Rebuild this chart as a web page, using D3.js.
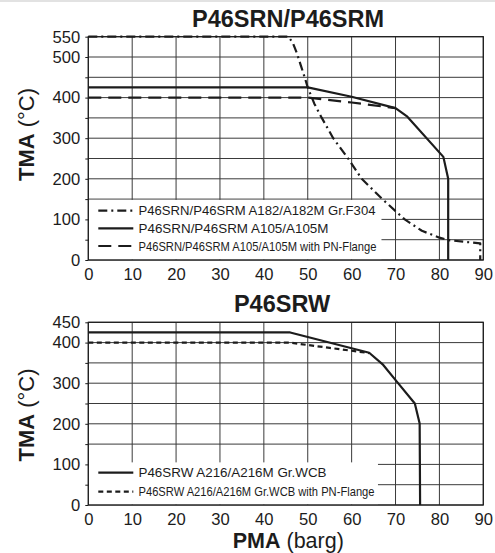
<!DOCTYPE html>
<html>
<head>
<meta charset="utf-8">
<script src="https://cdnjs.cloudflare.com/ajax/libs/d3/7.8.5/d3.min.js"></script>
<style>
  body { margin: 0; background: #fff; }
  svg { display: block; font-family: "Liberation Sans", Arial, sans-serif; }
</style>
</head>
<body>
<div id="chart"></div>
<script>
// tick values
const pmaTicks = [0, 10, 20, 30, 40, 50, 60, 70, 80, 90];
const topTmaLabels = [0, 100, 200, 300, 400, 500, 550];
const bottomTmaLabels = [0, 100, 200, 300, 400, 450];

// P46SRN/P46SRM A182/A182M Gr.F304
const f304Pma = [0, 45.6, 46.6, 47.5, 48.4, 49.3, 50, 51.5, 53.2, 55.8, 59.2, 62.3, 67, 72.1, 76, 80, 82, 89.3, 89.3];
const f304Tma = [550, 550, 535, 510, 480, 450, 425, 385, 350, 300, 250, 200, 150, 100, 72, 55, 49, 41, 0];
// P46SRN/P46SRM A105/A105M
const a105Pma = [0, 50, 60, 70, 72.7, 80.9, 82, 82];
const a105Tma = [425, 425, 402, 374, 353, 254, 200, 0];
// P46SRN/P46SRM A105/A105M with PN-Flange
const a105PnPma = [0, 50, 60, 70];
const a105PnTma = [400, 400, 388, 374];

// P46SRW A216/A216M Gr.WCB
const wcbPma = [0, 46, 64, 67.2, 70.3, 74.4, 75.5, 75.6];
const wcbTma = [425, 425, 375, 345, 304, 250, 201, 0];
// P46SRW A216/A216M Gr.WCB with PN-Flange
const wcbPnPma = [0, 46, 50, 55, 60, 64];
const wcbPnTma = [400, 400, 394, 387, 380, 374];

// line styles, kept apart from the data
const lineStyles = {
    dashDot: '9,4,2,4',
    solid: null,
    longDash: '13,7',
    shortDash: '5,3.5'
};

const panels = [
    {
        title: 'P46SRN/P46SRM', titleX: 288, titleY: 26.7,
        top: 36.7, bottom: 260, yMax: 550, yLabels: topTmaLabels, yTitleY: 134.5,
        legendTop: 148, legendRight: 66.8, rowStart: 10.7, rowStep: 17.7,
        series: [
            { label: 'P46SRN/P46SRM A182/A182M Gr.F304', pma: f304Pma, tma: f304Tma, style: 'dashDot', textW: 237 },
            { label: 'P46SRN/P46SRM A105/A105M', pma: a105Pma, tma: a105Tma, style: 'solid', textW: 190 },
            { label: 'P46SRN/P46SRM A105/A105M with PN-Flange', pma: a105PnPma, tma: a105PnTma, style: 'longDash', textW: 238 }
        ]
    },
    {
        title: 'P46SRW', titleX: 282, titleY: 311.7,
        top: 322.3, bottom: 505, yMax: 450, yLabels: bottomTmaLabels, yTitleY: 415,
        legendTop: 105, legendRight: 66, rowStart: 10.2, rowStep: 19,
        series: [
            { label: 'P46SRW A216/A216M Gr.WCB', pma: wcbPma, tma: wcbTma, style: 'solid', textW: 188 },
            { label: 'P46SRW A216/A216M Gr.WCB with PN-Flange', pma: wcbPnPma, tma: wcbPnTma, style: 'shortDash', textW: 236 }
        ]
    }
];

const W = 495, H = 553;
const ink = '#1c1c1c';
const gridColor = '#3a3a3a';

const svg = d3.select('#chart').append('svg')
    .attr('width', W).attr('height', H)
    .attr('viewBox', `0 0 ${W} ${H}`);

svg.append('rect').attr('width', W).attr('height', H).attr('fill', '#fff');
svg.append('rect').attr('width', W).attr('height', 2).attr('fill', '#e2e2e2');

const x = d3.scaleLinear().domain([0, 90]).range([88.3, 483.3]);

panels.forEach(p => {
    const y = d3.scaleLinear().domain([0, p.yMax]).range([p.bottom, p.top]);
    const g = svg.append('g');
    const levels = d3.range(0, p.yMax + 1, 50);

    // grid
    g.selectAll('.hgrid').data(levels).join('line')
        .attr('class', 'hgrid')
        .attr('x1', x(0)).attr('x2', x(90))
        .attr('y1', d => y(d)).attr('y2', d => y(d))
        .attr('stroke', gridColor).attr('stroke-width', 1);
    g.selectAll('.vgrid').data(pmaTicks).join('line')
        .attr('class', 'vgrid')
        .attr('x1', d => x(d)).attr('x2', d => x(d))
        .attr('y1', y(0)).attr('y2', y(p.yMax))
        .attr('stroke', gridColor).attr('stroke-width', 1);

    // legend background hides the grid beneath it
    g.append('rect')
        .attr('x', x(0) + 0.6).attr('y', y(p.legendTop))
        .attr('width', x(p.legendRight) - x(0) - 0.6)
        .attr('height', y(0) - y(p.legendTop) - 0.6)
        .attr('fill', '#fff');

    // frame
    g.append('rect')
        .attr('x', x(0)).attr('y', y(p.yMax))
        .attr('width', x(90) - x(0)).attr('height', y(0) - y(p.yMax))
        .attr('fill', 'none').attr('stroke', ink).attr('stroke-width', 1.2);

    // axes
    const yAxis = g.append('g')
        .attr('transform', `translate(${x(0)},0)`)
        .call(d3.axisLeft(y).tickValues(levels).tickSize(3).tickPadding(5)
            .tickFormat(d => p.yLabels.includes(d) ? d : ''));
    const xAxis = g.append('g')
        .attr('transform', `translate(0,${y(0)})`)
        .call(d3.axisBottom(x).tickValues(pmaTicks).tickSize(0).tickPadding(7.8));
    [yAxis, xAxis].forEach(a => {
        a.select('.domain').remove();
        a.attr('font-family', null).attr('font-size', 16.6).attr('color', ink);
        a.selectAll('.tick line').attr('stroke-width', 1);
    });

    // series
    const line = d3.line().x(d => x(d[0])).y(d => y(d[1]));
    p.series.slice().reverse().forEach(s => {
        g.append('path')
            .datum(d3.zip(s.pma, s.tma))
            .attr('d', line)
            .attr('fill', 'none')
            .attr('stroke', ink)
            .attr('stroke-width', 2.2)
            .attr('stroke-linejoin', 'round')
            .attr('stroke-dasharray', lineStyles[s.style]);
    });

    // legend
    const leg = g.append('g');
    p.series.forEach((s, i) => {
        const ly = y(p.legendTop) + p.rowStart + i * p.rowStep;
        leg.append('line')
            .attr('x1', 98.3).attr('x2', 133.3)
            .attr('y1', ly).attr('y2', ly)
            .attr('stroke', ink).attr('stroke-width', 2.2)
            .attr('stroke-dasharray', lineStyles[s.style]);
        leg.append('text')
            .attr('x', 138.5).attr('y', ly + 4.6)
            .attr('font-size', 13.3)
            .attr('fill', ink)
            .attr('textLength', s.textW)
            .attr('lengthAdjust', 'spacingAndGlyphs')
            .text(s.label);
    });

    // title
    g.append('text')
        .attr('x', p.titleX).attr('y', p.titleY)
        .attr('text-anchor', 'middle')
        .attr('font-size', 23.5).attr('font-weight', 700)
        .attr('fill', ink)
        .text(p.title);

    // y title
    const yt = g.append('text')
        .attr('transform', `translate(33.5,${p.yTitleY}) rotate(-90)`)
        .attr('text-anchor', 'middle')
        .attr('font-size', 22)
        .attr('fill', ink);
    yt.append('tspan').attr('font-weight', 700).text('TMA');
    yt.append('tspan').text(' (°C)');
});

// x title
const xt = svg.append('text')
    .attr('x', 288.3).attr('y', 548.2)
    .attr('text-anchor', 'middle')
    .attr('font-size', 21.5)
    .attr('fill', ink);
xt.append('tspan').attr('font-weight', 700).text('PMA');
xt.append('tspan').text(' (barg)');
</script>
</body>
</html>
